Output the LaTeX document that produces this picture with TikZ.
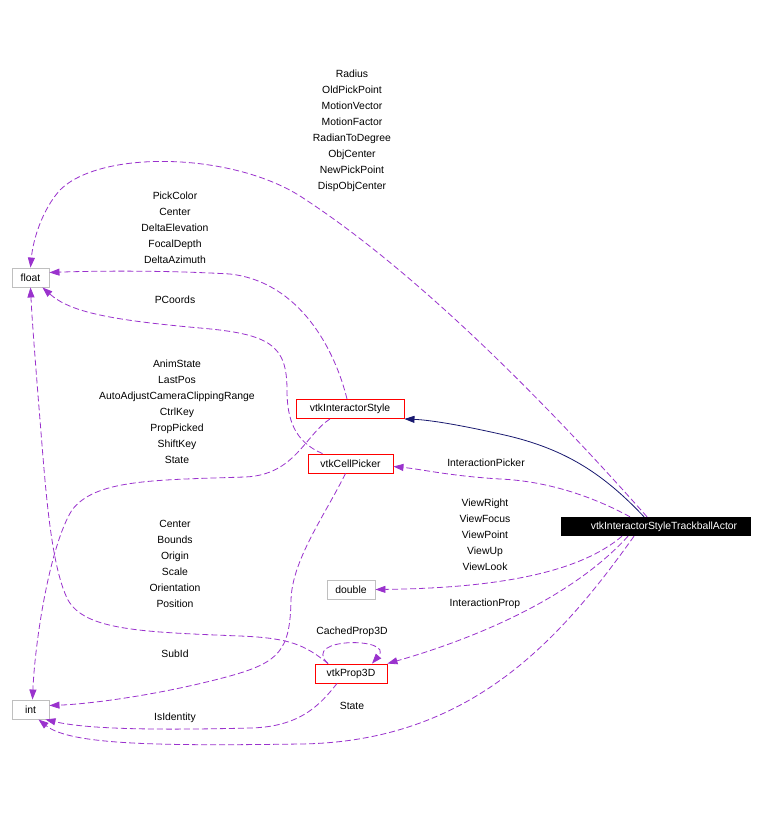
\documentclass[tikz,border=0pt]{standalone}
\usepackage{fontspec}
\setmainfont{Liberation Sans}
\usetikzlibrary{arrows.meta}
\definecolor{orchid}{HTML}{9A32CD}
\definecolor{navyblue}{HTML}{191970}
\definecolor{boxgray}{HTML}{BFBFBF}

\begin{document}
\begin{tikzpicture}[x=1pt, y=-1pt,
    every node/.style={font=\fontsize{10.4}{16}\selectfont, inner sep=0pt, minimum height=19pt},
    cls/.style={draw=red, line width=0.9pt},
    builtin/.style={draw=boxgray, line width=0.9pt},
    lbl/.style={minimum height=0pt, align=center},
    use/.style={draw=orchid, line width=0.8pt, dash pattern=on 6pt off 3pt,
      -{Triangle[length=10pt,width=7pt]}},
    inherit/.style={draw=navyblue, line width=0.8pt, -{Triangle[length=10pt,width=7pt]}}]
      \fill[white] (0,0) rectangle (765,829);
      \useasboundingbox (0,0) rectangle (765,829);
      % classes
      \node[builtin, minimum width=37pt] (float) at (30.5,277.5) {float};
      \node[builtin, minimum width=37pt] (int) at (30.5,709.5) {int};
      \node[cls, minimum width=108pt] (isty) at (350,409) {vtkInteractorStyle};
      \node[cls, minimum width=85pt] (picker) at (350.5,463.5) {vtkCellPicker};
      \node[fill=black, text=white, minimum width=190pt] (actor) at (656,526.5) {\hspace{16pt}vtkInteractorStyleTrackballActor};
      \node[builtin, minimum width=48pt] (dbl) at (351,589.5) {double};
      \node[cls, minimum width=72pt] (prop) at (351,673.5) {vtkProp3D};
      % members
      \draw[use] ([xshift=-9pt]actor.north) .. controls (570,430) and (430,280) .. (300,196)
        .. controls (230,152) and (100,150) .. (60,190) .. controls (42,210) and (33,240) .. (float.north);
      \draw[use] ([xshift=-3pt]isty.north) .. controls (335,350) and (300,282) .. (230,274)
        .. controls (160,270) and (90,271) .. ([yshift=5pt]float.east);
      \draw[use] ([xshift=-28pt]picker.north) .. controls (295,442) and (287,420) .. (287,390)
        .. controls (287,345) and (270,334) .. (200,328) .. controls (110,320) and (70,312) .. ([xshift=-7pt]float.south east);
      \draw[use] ([xshift=-20pt]isty.south) .. controls (305,435) and (295,475) .. (245,477)
        .. controls (150,480) and (95,480) .. (72,510) .. controls (50,545) and (35,640) .. ([xshift=2pt]int.north);
      \draw[use] ([xshift=-23pt]prop.north) .. controls (305,645) and (290,638) .. (240,636)
        .. controls (140,632) and (85,630) .. (68,600) .. controls (50,565) and (45,480) .. (40,420)
        .. controls (36,370) and (32,320) .. (float.south);
      \draw[use] ([xshift=-5pt]picker.south) .. controls (325,515) and (292,560) .. (291,600)
        .. controls (290,650) and (280,662) .. (230,676) .. controls (160,695) and (90,704) .. ([yshift=4pt]int.east);
      \draw[use] ([xshift=-14pt]prop.south) .. controls (320,705) and (300,727) .. (250,728)
        .. controls (170,730) and (90,730) .. ([xshift=-4pt]int.south east);
      \draw[use] ([xshift=-22pt]actor.south) .. controls (560,640) and (470,742) .. (300,744)
        .. controls (160,746) and (70,745) .. ([xshift=8pt]int.south);
      \draw[inherit] ([xshift=-12pt]actor.north) .. controls (600,470) and (560,447) .. (500,434)
        .. controls (460,425) and (430,420) .. (isty.south east);
      \draw[use] ([xshift=-26pt]actor.north) .. controls (590,495) and (545,481) .. (500,479)
        .. controls (450,476) and (420,469) .. ([yshift=-3pt]picker.east);
      \draw[use] ([xshift=-34pt]actor.south) .. controls (580,572) and (500,588) .. (dbl.east);
      \draw[use] ([xshift=-28pt]actor.south) .. controls (570,600) and (470,640) .. (prop.north east);
      \draw[use] ([xshift=-23pt]prop.north) .. controls (300,637) and (395,637) .. ([xshift=21pt]prop.north);
      % labels
      \node[lbl] (radius) at (352,131) {Radius\\OldPickPoint\\MotionVector\\MotionFactor\\RadianToDegree\\ObjCenter\\NewPickPoint\\DispObjCenter};
      \node[lbl] (pickcolor) at (175,228) {PickColor\\Center\\DeltaElevation\\FocalDepth\\DeltaAzimuth};
      \node[lbl] (pcoords) at (175,300) {PCoords};
      \node[lbl] (animstate) at (177,412) {AnimState\\LastPos\\AutoAdjustCameraClippingRange\\CtrlKey\\PropPicked\\ShiftKey\\State};
      \node[lbl] (center) at (175,564) {Center\\Bounds\\Origin\\Scale\\Orientation\\Position};
      \node[lbl] (subid) at (175,654) {SubId};
      \node[lbl] (isident) at (175,718) {IsIdentity};
      \node[lbl] (state) at (352,706) {State};
      \node[lbl] (cached) at (352,632) {CachedProp3D};
      \node[lbl] (ipicker) at (486,463) {InteractionPicker};
      \node[lbl] (viewright) at (485,535) {ViewRight\\ViewFocus\\ViewPoint\\ViewUp\\ViewLook};
      \node[lbl] (iprop) at (485,604) {InteractionProp};
    \end{tikzpicture}
\end{document}
